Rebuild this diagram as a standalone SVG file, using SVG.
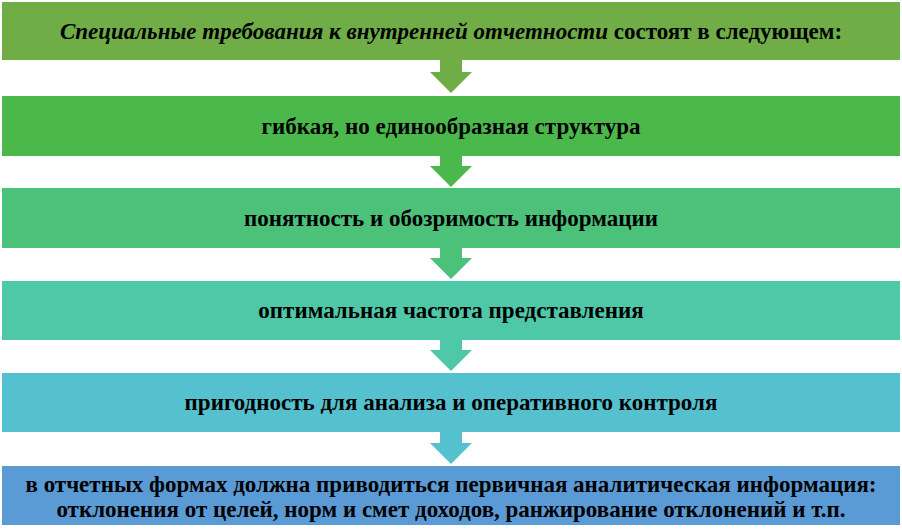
<svg xmlns="http://www.w3.org/2000/svg" width="902" height="532" viewBox="0 0 902 532">
<style>
text{font-family:'Liberation Serif','DejaVu Serif',serif;font-weight:bold;font-size:23px;fill:#000;text-anchor:middle}
</style>
<rect width="902" height="532" fill="#fff"/>
<g id="connectors">
<path d="M440,60 H462 V72 H472 L451,93 L430,72 H440 Z" fill="#70AD47"/>
<path d="M440,156 H462 V166 H472 L451,187 L430,166 H440 Z" fill="#4AB84A"/>
<path d="M440,248 H462 V258 H472 L451,279 L430,258 H440 Z" fill="#4CC17A"/>
<path d="M440,340 H462 V350 H472 L451,371 L430,350 H440 Z" fill="#4FC8A8"/>
<path d="M440,432 H462 V443 H472 L451,464 L430,443 H440 Z" fill="#55C1CE"/>
</g>
<g id="n1"><rect x="2" y="2" width="898" height="58" fill="#70AD47"/><text x="451" y="39" font-family="Liberation Serif, serif"><tspan font-style="italic">Специальные требования к внутренней отчетности</tspan> состоят в следующем:</text></g>
<g id="n2"><rect x="2" y="96" width="898" height="60" fill="#4AB84A"/><text x="451" y="134" font-family="Liberation Serif, serif">гибкая, но единообразная структура</text></g>
<g id="n3"><rect x="2" y="188" width="898" height="60" fill="#4CC17A"/><text x="451" y="226" font-family="Liberation Serif, serif">понятность и обозримость информации</text></g>
<g id="n4"><rect x="2" y="281" width="898" height="59" fill="#4FC8A8"/><text x="451" y="318" font-family="Liberation Serif, serif">оптимальная частота представления</text></g>
<g id="n5"><rect x="2" y="373" width="898" height="59" fill="#55C1CE"/><text x="451" y="410" font-family="Liberation Serif, serif">пригодность для анализа и оперативного контроля</text></g>
<g id="n6"><rect x="2" y="466" width="898" height="59" fill="#5B9BD5"/><text x="451" y="492" font-family="Liberation Serif, serif">в отчетных формах должна приводиться первичная аналитическая информация:</text><text x="451" y="517" font-family="Liberation Serif, serif">отклонения от целей, норм и смет доходов, ранжирование отклонений и т.п.</text></g>
</svg>
